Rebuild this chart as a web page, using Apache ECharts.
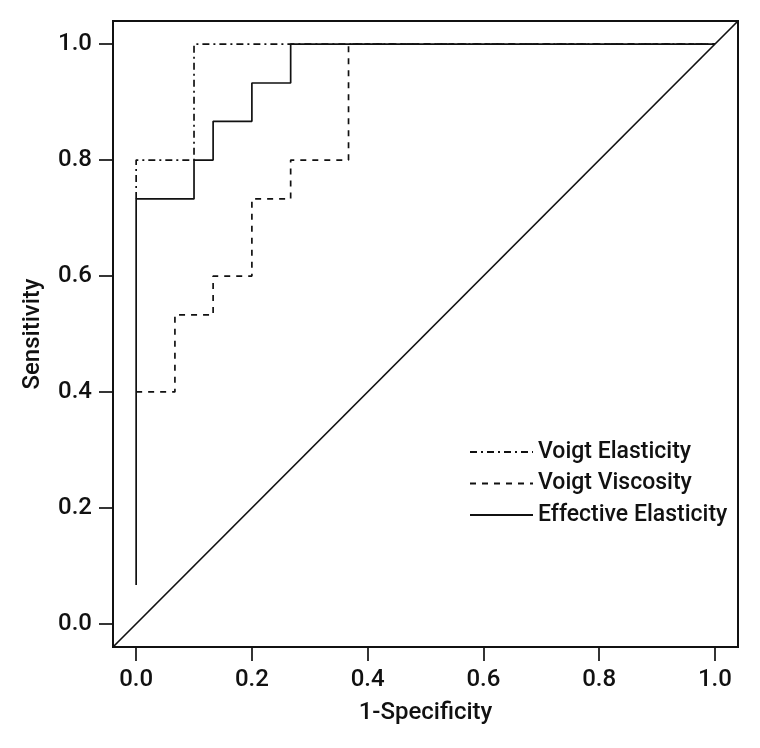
<!DOCTYPE html>
<html>
<head>
<meta charset="utf-8">
<script src="https://cdn.jsdelivr.net/npm/echarts@6/dist/echarts.min.js"></script>
<style>
  html, body { margin: 0; padding: 0; background: #fff; }
  #chart { width: 760px; height: 748px; }
</style>
</head>
<body>
<div id="chart"></div>
<script>
  // ROC curves (1-specificity, sensitivity)
  let elasticX = [0, 0, 0.1, 0.1, 1];
  let elasticY = [0.733, 0.8, 0.8, 1, 1];

  let viscousX = [0, 0.067, 0.067, 0.133, 0.133, 0.2, 0.2, 0.267, 0.267, 0.367, 0.367, 1];
  let viscousY = [0.4, 0.4, 0.533, 0.533, 0.6, 0.6, 0.733, 0.733, 0.8, 0.8, 1, 1];

  let effectiveX = [0, 0, 0.1, 0.1, 0.133, 0.133, 0.2, 0.2, 0.267, 0.267, 1];
  let effectiveY = [0.067, 0.733, 0.733, 0.8, 0.8, 0.867, 0.867, 0.933, 0.933, 1, 1];

  let tickValues = [0, 0.2, 0.4, 0.6, 0.8, 1.0];
  let axisRange = [-0.04, 1.04];   // R-style 4% padding
  let seriesNames = ['Voigt Elasticity', 'Voigt Viscosity', 'Effective Elasticity'];

  function pairs(xs, ys) {
    return xs.map(function (x, i) { return [x, ys[i]]; });
  }

  let font = 'Roboto, "Liberation Sans", Arial, sans-serif';
  let weight = 500;
  let ink = '#111';

  function axis(name, gap) {
    return {
      type: 'value',
      min: axisRange[0],
      max: axisRange[1],
      name: name,
      nameLocation: 'middle',
      nameGap: gap,
      nameTextStyle: { fontFamily: font, fontWeight: weight, fontSize: 24, color: ink },
      axisLine: { show: false, onZero: false },
      axisTick: {
        show: true,
        inside: false,
        length: 14,
        customValues: tickValues,
        lineStyle: { color: ink, width: 1.7 }
      },
      axisLabel: {
        customValues: tickValues,
        margin: 21,
        fontFamily: font,
        fontWeight: weight,
        fontSize: 24,
        color: ink,
        formatter: function (v) { return v.toFixed(1); }
      },
      splitLine: { show: false }
    };
  }

  let chart = echarts.init(document.getElementById('chart'));
  let option = {
    animation: false,
    backgroundColor: '#fff',
    grid: {
      left: 113,
      top: 21,
      width: 625,
      height: 626,
      show: true,
      borderColor: ink,
      borderWidth: 2,
      backgroundColor: 'transparent'
    },
    xAxis: axis('1-Specificity', 54),
    yAxis: axis('Sensitivity', 68),
    legend: {
      show: true,
      orient: 'vertical',
      left: 464,
      top: 435,
      itemWidth: 63,
      itemHeight: 14,
      itemGap: 7.5,
      itemStyle: { opacity: 0 },
      textStyle: { fontFamily: font, fontWeight: weight, fontSize: 23, color: ink, lineHeight: 24 },
      data: seriesNames
    },
    series: [
      {
        name: 'diagonal',
        type: 'line',
        data: [[axisRange[0], axisRange[0]], [axisRange[1], axisRange[1]]],
        symbol: 'none',
        lineStyle: { color: ink, width: 1.7 },
        silent: true
      },
      {
        name: seriesNames[0],
        type: 'line',
        data: pairs(elasticX, elasticY),
        symbol: 'none',
        itemStyle: { color: ink },
        lineStyle: { color: ink, width: 1.7, type: [7, 4, 2, 4] }
      },
      {
        name: seriesNames[1],
        type: 'line',
        data: pairs(viscousX, viscousY),
        symbol: 'none',
        itemStyle: { color: ink },
        lineStyle: { color: ink, width: 1.7, type: [6, 6] }
      },
      {
        name: seriesNames[2],
        type: 'line',
        data: pairs(effectiveX, effectiveY),
        symbol: 'none',
        itemStyle: { color: ink },
        lineStyle: { color: ink, width: 1.7 }
      }
    ]
  };
  chart.setOption(option);
  window.addEventListener('resize', function () {
    chart.resize();
  });
</script>
</body>
</html>
